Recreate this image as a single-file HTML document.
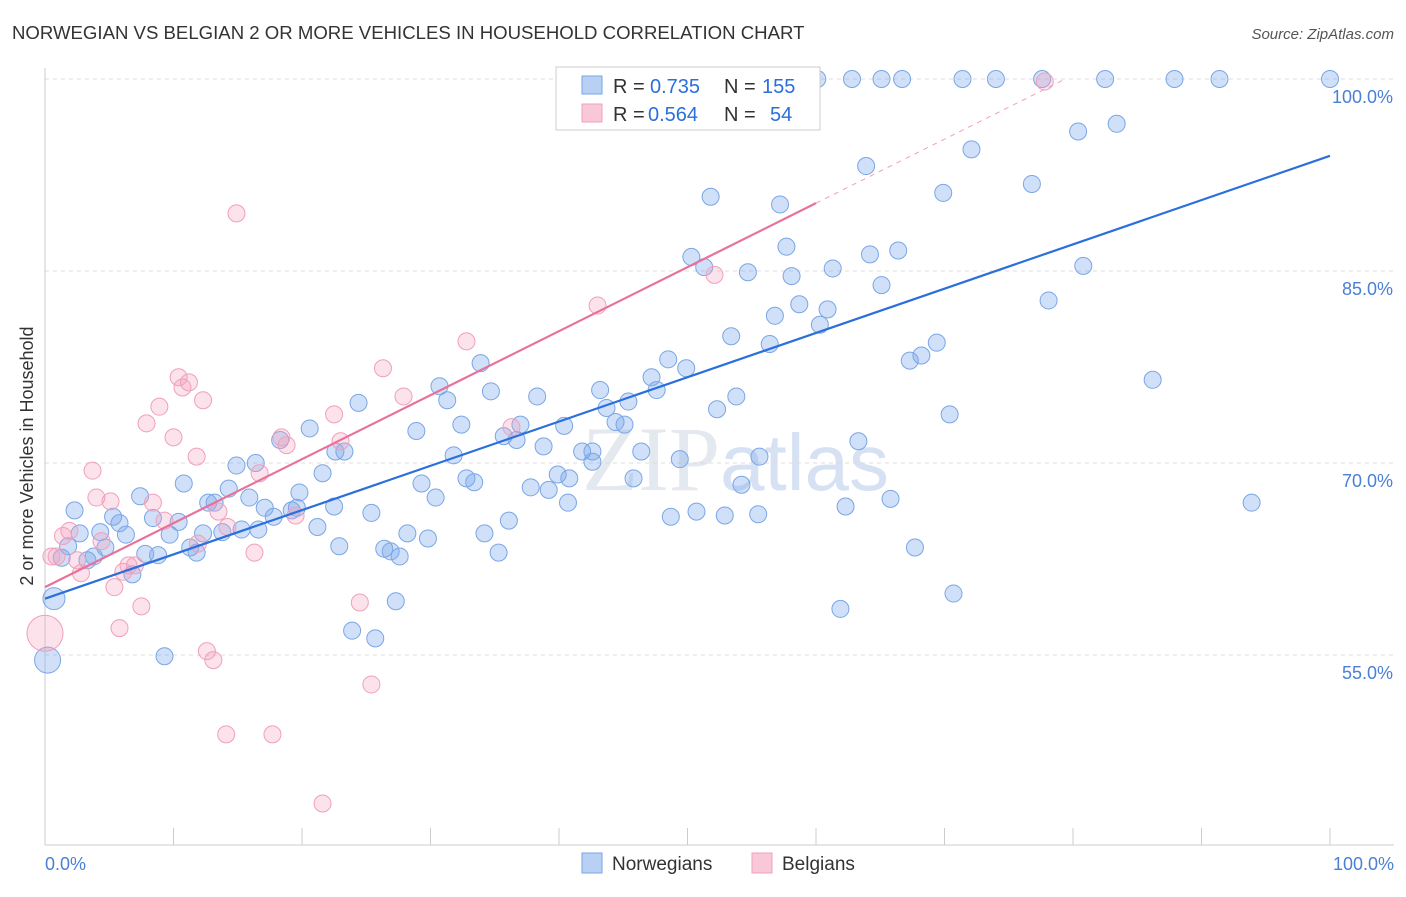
<!DOCTYPE html>
<html><head><meta charset="utf-8"><style>
body{margin:0;background:#fff;font-family:"Liberation Sans",sans-serif;}
</style></head><body>
<svg id="chart" width="1406" height="892" xmlns="http://www.w3.org/2000/svg" font-family="Liberation Sans, sans-serif">
<text x="12" y="39" font-size="18.6" fill="#333">NORWEGIAN VS BELGIAN 2 OR MORE VEHICLES IN HOUSEHOLD CORRELATION CHART</text>
<text x="1394" y="39" font-size="15" fill="#555" text-anchor="end" font-style="italic">Source: ZipAtlas.com</text>
<text x="720" y="490" font-size="92" fill="#e4e8ef" text-anchor="end" font-family="Liberation Serif, serif">ZIP</text>
<text x="720" y="490" font-size="80" fill="#d6e2f3">atlas</text>
<text transform="translate(33,456) rotate(-90)" font-size="18" fill="#333" text-anchor="middle">2 or more Vehicles in Household</text>
<g id="grid"></g><g id="pts"></g><g id="lines"></g>
<g>
<rect x="556" y="67" width="264" height="63" fill="#fff" stroke="#ccc"/>
<rect x="582" y="76" width="20" height="18" fill="#b7d0f3" stroke="#7aa6e6"/>
<rect x="582" y="104" width="20" height="18" fill="#f9c8d8" stroke="#f0a0bb"/>
<text x="613" y="93" font-size="20" fill="#333">R =</text>
<text x="650" y="93" font-size="20" fill="#2a6fdb">0.735</text>
<text x="724" y="93" font-size="20" fill="#333">N =</text>
<text x="762" y="93" font-size="20" fill="#2a6fdb">155</text>
<text x="613" y="121" font-size="20" fill="#333">R =</text>
<text x="648" y="121" font-size="20" fill="#2a6fdb">0.564</text>
<text x="724" y="121" font-size="20" fill="#333">N =</text>
<text x="770" y="121" font-size="20" fill="#2a6fdb">54</text>
</g>
<g>
<rect x="582" y="853" width="20" height="20" fill="#b7d0f3" stroke="#7aa6e6"/>
<text x="612" y="870" font-size="19" fill="#333">Norwegians</text>
<rect x="752" y="853" width="20" height="20" fill="#f9c8d8" stroke="#f0a0bb"/>
<text x="782" y="870" font-size="19" fill="#333">Belgians</text>
</g>
</svg>
<script>
const yTicks=[100,85,70,55];
const xTickLabels=["0.0%","100.0%"];
const blueX=[60.1,62.8,65.1,66.7,71.4,74.0,77.6,82.5,87.9,91.4,100,83.4,80.4,72.1,63.9,76.8,69.9,51.8,57.2,57.7,66.4,50.3,64.2,51.3,54.7,58.1,61.3,80.8,65.1,78.1,58.7,56.8,60.9,60.3,53.4,56.4,69.4,68.2,67.3,48.5,49.9,33.9,86.2,47.2,43.2,47.6,30.7,34.7,31.3,38.3,53.8,45.4,43.7,52.3,24.4,70.4,44.4,32.4,37.0,45.1,28.9,20.6,40.4,35.7,36.7,63.3,18.3,38.8,22.6,23.3,31.8,41.8,42.6,46.4,55.6,49.4,42.6,14.9,16.4,21.6,39.9,40.8,45.8,32.8,33.4,39.2,37.8,29.3,54.2,10.8,14.3,30.4,19.8,15.9,7.4,13.2,12.7,40.7,65.8,2.3,17.1,19.6,22.5,19.2,62.3,93.9,5.3,8.4,10.4,5.8,17.8,25.4,36.1,50.7,48.7,52.9,55.5,21.2,2.7,4.3,6.3,12.3,13.8,15.3,9.7,28.2,29.8,34.2,16.6,1.8,4.7,22.9,26.4,26.9,27.6,35.3,67.7,3.8,7.8,8.8,11.3,11.8,1.3,3.3,6.8,0.7,27.3,70.7,61.9,23.9,25.7,9.3,0.2];
const blueY=[100,100,100,100,100,100,100,100,100,100,100,96.5,95.9,94.5,93.2,91.8,91.1,90.8,90.2,86.9,86.6,86.1,86.3,85.3,84.9,84.6,85.2,85.4,83.9,82.7,82.4,81.5,82.0,80.8,79.9,79.3,79.4,78.4,78.0,78.1,77.4,77.8,76.5,76.7,75.7,75.7,76.0,75.6,74.9,75.2,75.2,74.8,74.3,74.2,74.7,73.8,73.2,73.0,73.0,73.0,72.5,72.7,72.9,72.1,71.8,71.7,71.8,71.3,70.9,70.9,70.6,70.9,70.9,70.9,70.5,70.3,70.1,69.8,70.0,69.2,69.1,68.8,68.8,68.8,68.5,67.9,68.1,68.4,68.3,68.4,68.0,67.3,67.7,67.3,67.4,66.9,66.9,66.9,67.2,66.3,66.5,66.5,66.6,66.3,66.6,66.9,65.8,65.7,65.4,65.3,65.8,66.1,65.5,66.2,65.8,65.9,66.0,65.0,64.5,64.6,64.4,64.5,64.6,64.8,64.4,64.5,64.1,64.5,64.8,63.5,63.4,63.5,63.3,63.1,62.7,63.0,63.4,62.7,62.9,62.8,63.4,63.0,62.6,62.4,61.3,59.4,59.2,59.8,58.6,56.9,56.3,54.9,54.6];
const blueBig={};
blueBig[blueX.length-8]=11;
blueBig[blueX.length-1]=13;
const pinkX=[14.9,43.0,52.1,32.8,26.3,10.4,11.2,10.7,8.9,12.3,27.9,22.5,7.9,10.0,36.3,23.0,18.4,18.8,11.8,3.7,16.7,4.0,8.4,5.1,13.5,9.3,19.5,1.9,1.4,14.2,4.4,11.9,0.9,0.5,16.3,2.5,6.5,7.0,2.8,6.1,5.4,7.5,24.5,5.8,0,12.6,13.1,25.4,14.1,17.7,21.6,77.8];
const pinkY=[89.5,82.3,84.7,79.5,77.4,76.7,76.3,75.9,74.4,74.9,75.2,73.8,73.1,72.0,72.8,71.7,72.0,71.4,70.5,69.4,69.2,67.3,66.9,67.0,66.2,65.5,65.9,64.7,64.3,65.0,63.9,63.7,62.7,62.7,63.0,62.4,62.0,62.0,61.4,61.5,60.3,58.8,59.1,57.1,56.7,55.3,54.6,52.7,48.8,48.8,43.4,99.8];
const pinkBig={44:18};
const blueFit=[59.4,94.0];
const pinkFit=[60.3,0.5];
const NS="http://www.w3.org/2000/svg";
const X=v=>45+v*12.85, Y=v=>79+(100-v)*12.8;
function mk(p,t,a){const e=document.createElementNS(NS,t);for(const k in a)e.setAttribute(k,a[k]);p.appendChild(e);return e;}
const grid=document.getElementById('grid');
yTicks.forEach(t=>{
 const l=mk(grid,'line',{x1:45,x2:1394,y1:Y(t),y2:Y(t),stroke:'#dcdcdc','stroke-dasharray':'4,4'});
 
 
 const tx=mk(grid,'text',{x:1393,y:Y(t)+24,'font-size':18,fill:'#4a7fd6','text-anchor':'end'});tx.textContent=t.toFixed(1)+'%';
 
 
});
const ax=mk(grid,'line',{x1:45,x2:1394,y1:845,y2:845,stroke:'#ccc'});


const ay=mk(grid,'line',{x1:45,x2:45,y1:68,y2:845,stroke:'#ccc'});


for(let i=0;i<=10;i++){const t=mk(grid,'line',{x1:X(i*10),x2:X(i*10),y1:828,y2:845,stroke:'#ccc'});
 
 }
[[0,'start',45],[1,'end',1394]].forEach(([i,a,x])=>{const t=mk(grid,'text',{x:x,y:870,'font-size':18,fill:'#4a7fd6','text-anchor':a});t.textContent=xTickLabels[i];
 
 });
const pts=document.getElementById('pts');
blueX.forEach((v,i)=>{const c=mk(pts,'circle',{cx:X(v),cy:Y(blueY[i]),r:blueBig[i]||8.5,fill:'rgba(120,165,235,0.35)',stroke:'#7aa6e6','stroke-width':1});
 
 });
pinkX.forEach((v,i)=>{const c=mk(pts,'circle',{cx:X(v),cy:Y(pinkY[i]),r:pinkBig[i]||8.5,fill:'rgba(245,160,190,0.3)',stroke:'#f0a0bb','stroke-width':1});
 
 });
const lines=document.getElementById('lines');
const bl=mk(lines,'line',{x1:X(0),y1:Y(blueFit[0]),x2:X(100),y2:Y(blueFit[1]),stroke:'#2a6fdb','stroke-width':2.2});


const pf=x=>pinkFit[0]+pinkFit[1]*x;
const pl=mk(lines,'line',{x1:X(0),y1:Y(pf(0)),x2:X(60),y2:Y(pf(60)),stroke:'#e8719a','stroke-width':2.2});


const xEnd=(100-pinkFit[0])/pinkFit[1];
const pd=mk(lines,'line',{x1:X(60),y1:Y(pf(60)),x2:X(xEnd),y2:Y(100),stroke:'#f0a0bb','stroke-width':1,'stroke-dasharray':'5,5'});


</script>
</body></html>
